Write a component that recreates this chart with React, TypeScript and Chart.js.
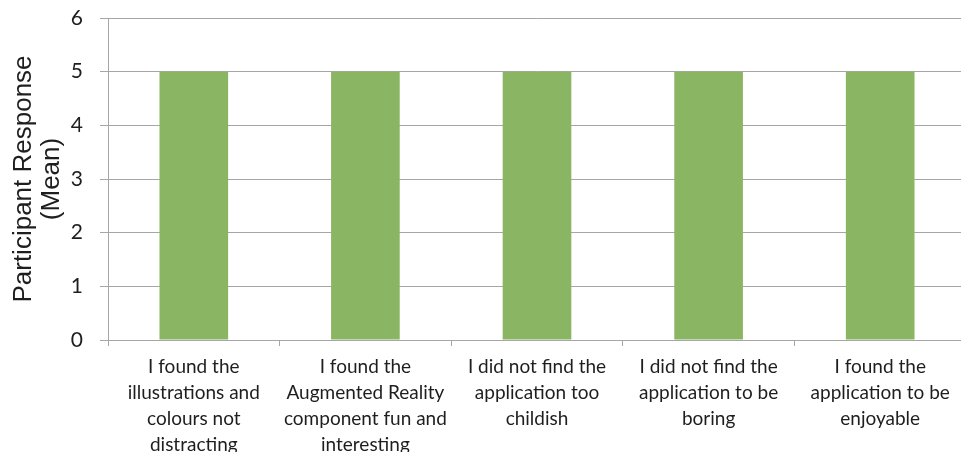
import React, { useEffect, useRef } from "react";
import { Chart, registerables } from "chart.js";

Chart.register(...registerables);

const categories: string[][] = [
  ["I found the", "illustrations and", "colours not", "distracting"],
  ["I found the", "Augmented Reality", "component fun and", "interesting"],
  ["I did not find the", "application too", "childish"],
  ["I did not find the", "application to be", "boring"],
  ["I found the", "application to be", "enjoyable"],
];
const meanValues: number[] = [5, 5, 5, 5, 5];
const yTitle: string[] = ["Participant Response", "(Mean)"];

export default function App() {
  const ref = useRef<HTMLCanvasElement>(null);
  useEffect(() => {
    if (!ref.current) return;
    const chart = new Chart(ref.current, {
      type: "bar",
      data: {
        labels: categories,
        datasets: [
          {
            data: meanValues,
            backgroundColor: "#8AB562",
            borderWidth: 0,
            barPercentage: 0.4,
            categoryPercentage: 1,
          },
        ],
      },
      options: {
        responsive: false,
        animation: false,
        maintainAspectRatio: false,
        layout: { padding: { top: 18, left: 0, right: 0, bottom: 0 } },
        plugins: { legend: { display: false }, tooltip: { enabled: false } },
        scales: {
          x: {
            offset: true,
            grid: {
              display: true,
              offset: true,
              drawOnChartArea: false,
              tickLength: 6,
              color: "#A6A6A6",
            },
            border: { display: true, color: "#A6A6A6" },
            ticks: {
              color: "#1E1E1E",
              padding: 8,
              maxRotation: 0,
              autoSkip: false,
              font: { family: "Lato", size: 19, lineHeight: 1.37 },
            },
            afterFit: (s: any) => {
              s.height = 112;
              s.paddingLeft = 0;
              s.paddingRight = 0;
            },
          },
          y: {
            min: 0,
            max: 6,
            ticks: {
              stepSize: 1,
              color: "#1E1E1E",
              padding: 17,
              font: { family: "Lato", size: 21 },
            },
            grid: { color: "#A6A6A6", tickLength: 8 },
            border: { display: true, color: "#A6A6A6" },
            title: {
              display: true,
              text: yTitle,
              color: "#1E1E1E",
              padding: { top: 10, bottom: 0 },
              font: { family: "Liberation Sans", size: 26, lineHeight: 1.08 },
            },
            afterFit: (s: any) => {
              s.width = 108;
              s.paddingTop = 0;
              s.paddingBottom = 0;
            },
          },
        },
      },
    });
    return () => chart.destroy();
  }, []);
  return (
    <div
      style={{
        position: "fixed",
        left: 0,
        top: 0,
        width: 961,
        height: 452,
        overflow: "hidden",
        background: "#fff",
      }}
    >
      <canvas ref={ref} width={966} height={452} style={{ display: "block" }} />
    </div>
  );
}
